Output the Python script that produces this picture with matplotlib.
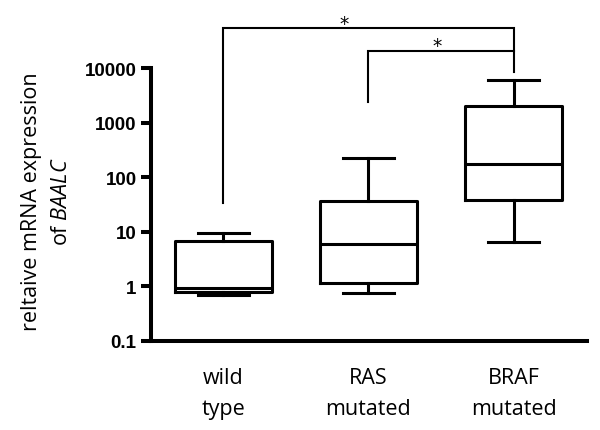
import numpy as np
import matplotlib
matplotlib.use("Agg")
import matplotlib.pyplot as plt

plt.rcParams['font.family'] = ['Open Sans', 'DejaVu Sans']
plt.rcParams['mathtext.fontset'] = 'custom'
plt.rcParams['mathtext.rm'] = 'Open Sans'
plt.rcParams['mathtext.it'] = 'Open Sans:italic'

# values (log scale)
groups = ['wild\ntype', 'RAS\nmutated', 'BRAF\nmutated']
whislo = [0.68, 0.75, 6.6]
q1 = [0.79, 1.15, 38.6]
med = [0.91, 5.9, 175]
q3 = [6.7, 37, 2050]
whishi = [9.6, 222, 6000]

yticks = [0.1, 1, 10, 100, 1000, 10000]
ytick_labels = ['0.1', '1', '10', '100', '1000', '10000']

# significance brackets: (left group, right group), bar height, leg ends
bracket_pairs = [(1, 3), (2, 3)]
bracket_y = [54700, 20900]
bracket_left_end = [33.7, 2370]
bracket_right_end = [8400, 20900]
star_x = [1.832, 2.474]

fig = plt.figure(figsize=(6, 4.31), dpi=100)
ax = fig.add_axes([0.2512, 0.2072, 0.7272, 0.7587])

stats = []
for i in range(len(groups)):
    stats.append(dict(whislo=whislo[i], q1=q1[i], med=med[i], q3=q3[i],
                      whishi=whishi[i], fliers=[]))

lw = 2.2
ax.bxp(stats, positions=[1, 2, 3], widths=0.667, capwidths=0.35,
       showfliers=False,
       boxprops=dict(color='black', linewidth=lw),
       whiskerprops=dict(color='black', linewidth=lw),
       capprops=dict(color='black', linewidth=lw),
       medianprops=dict(color='black', linewidth=lw))

for (a, b), y, ly, ry, sx in zip(bracket_pairs, bracket_y, bracket_left_end,
                                 bracket_right_end, star_x):
    ax.plot([a, a, b, b], [ly, y, y, ry], color='black', lw=1.5,
            clip_on=False, solid_joinstyle='miter')
    ax.annotate('*', xy=(sx, y), xytext=(0, -3.3), textcoords='offset points',
                ha='center', va='bottom', fontsize=13.5, family='DejaVu Sans',
                annotation_clip=False)

ax.set_yscale('log')
ax.set_ylim(0.1, 1e5)
ax.set_xlim(0.502, 3.504)
ax.set_yticks(yticks)
ax.set_yticklabels(ytick_labels, fontsize=13.5, fontweight='bold',
                   family='Liberation Sans')
ax.minorticks_off()
ax.set_xticks([1, 2, 3])
ax.set_xticklabels(groups, fontsize=15.5, linespacing=1.6)
ax.tick_params(axis='x', length=0, pad=19)
ax.tick_params(axis='y', length=7.2, width=2.9, pad=3)

for s in ['top', 'right']:
    ax.spines[s].set_visible(False)
ax.spines['left'].set_bounds(0.1, 10000)
ax.spines['left'].set_linewidth(2.9)
ax.spines['bottom'].set_linewidth(2.9)
ax.spines['left'].set_capstyle('projecting')

fig.text(0.0775, 0.532, 'reltaive mRNA expression\nof $\\it{BAALC}$',
         rotation=90, ha='center', va='center', multialignment='center',
         fontsize=15.5, linespacing=1.6)

fig.savefig('out.png', dpi=100)
